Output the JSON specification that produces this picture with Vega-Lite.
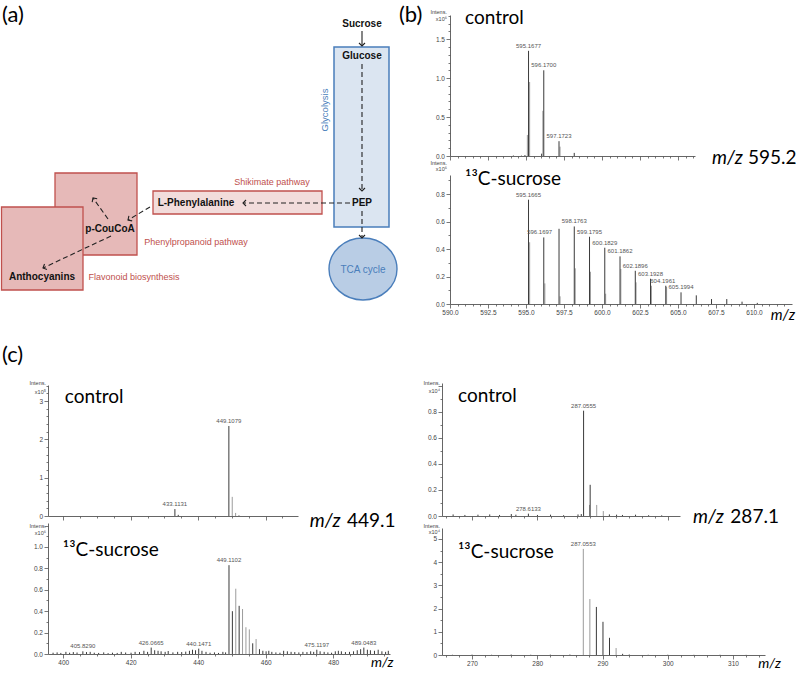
{
"$schema": "https://vega.github.io/schema/vega-lite/v6.json",
"width": 796, "height": 673, "autosize": "none", "padding": 0, "background": "white",
"config": {
  "view": {"stroke": null},
  "axis": {"domainColor": "#555", "tickColor": "#555", "labelColor": "#444", "labelFont": "Liberation Sans", "labelFontSize": 6.5, "labelPadding": 1.5, "grid": false, "labelOverlap": false, "labelFlush": false, "domainWidth": 0.9, "tickWidth": 0.8}
},
"datasets": {
  "boxes": [
    {"k": "sq", "gx": 55, "gx2": 137, "gy": 173, "gy2": 255},
    {"k": "sq", "gx": 1.5, "gx2": 83, "gy": 207, "gy2": 290},
    {"k": "phe", "gx": 153, "gx2": 322, "gy": 191, "gy2": 214},
    {"k": "gly", "gx": 334, "gx2": 389, "gy": 47, "gy2": 227},
    {"k": "tca", "gx": 363, "gy": 269}
  ],
  "links": [
    {"k": "solid", "gx": 362, "gy": 31, "gx2": 362, "gy2": 46, "hd": 180},
    {"k": "dash", "gx": 362, "gy": 64, "gx2": 362, "gy2": 191, "hd": 180},
    {"k": "dash", "gx": 350, "gy": 203, "gx2": 243, "gy2": 203, "hd": 270},
    {"k": "dash", "gx": 362, "gy": 211, "gx2": 362, "gy2": 238, "hd": 180},
    {"k": "dash", "gx": 150, "gy": 207, "gx2": 128, "gy2": 220, "hd": 237},
    {"k": "dash", "gx": 108, "gy": 219, "gx2": 93, "gy2": 198, "hd": 326},
    {"k": "dash", "gx": 111, "gy": 236, "gx2": 43, "gy2": 268, "hd": 246}
  ],
  "dtext": [
    {"k": "b", "gx": 362, "gy": 24, "txt": "Sucrose"},
    {"k": "b", "gx": 362, "gy": 56, "txt": "Glucose"},
    {"k": "b", "gx": 362, "gy": 203, "txt": "PEP"},
    {"k": "b", "gx": 196, "gy": 203, "txt": "L-Phenylalanine"},
    {"k": "b", "gx": 110, "gy": 229, "txt": "p-CouCoA"},
    {"k": "b", "gx": 42, "gy": 277, "txt": "Anthocyanins"},
    {"k": "r", "gx": 272, "gy": 182, "txt": "Shikimate pathway"},
    {"k": "r", "gx": 196, "gy": 242, "txt": "Phenylpropanoid pathway"},
    {"k": "r", "gx": 134, "gy": 277, "txt": "Flavonoid biosynthesis"},
    {"k": "u", "gx": 363, "gy": 270, "txt": "TCA cycle"},
    {"k": "v", "gx": 325, "gy": 110, "txt": "Glycolysis"},
    {"k": "f", "gx": 2, "gy": 15, "txt": "(a)"},
    {"k": "f", "gx": 399, "gy": 15, "txt": "(b)"},
    {"k": "f", "gx": 2, "gy": 355, "txt": "(c)"}
  ],
  "peaks": [
    {"p": "bc", "mz": 594.17, "i": 0.006, "t": "c"},
    {"p": "bc", "mz": 594.7, "i": 0.005, "t": "c"},
    {"p": "bc", "mz": 594.93, "i": 0.012, "t": "c"},
    {"p": "bc", "mz": 595.09, "i": 0.27, "t": "p"},
    {"p": "bc", "mz": 595.24, "i": 0.95, "t": "p"},
    {"p": "bc", "mz": 595.1677, "i": 1.35, "t": "c"},
    {"p": "bc", "mz": 596.03, "i": 0.03, "t": "c"},
    {"p": "bc", "mz": 596.11, "i": 0.58, "t": "p"},
    {"p": "bc", "mz": 596.17, "i": 1.10, "t": "c"},
    {"p": "bc", "mz": 597.24, "i": 0.12, "t": "p"},
    {"p": "bc", "mz": 597.1723, "i": 0.19, "t": "c"},
    {"p": "bc", "mz": 598.175, "i": 0.04, "t": "c"},

    {"p": "b13", "mz": 595.24, "i": 0.45, "t": "p"},
    {"p": "b13", "mz": 595.1665, "i": 0.76, "t": "c"},
    {"p": "b13", "mz": 596.24, "i": 0.15, "t": "p"},
    {"p": "b13", "mz": 596.1697, "i": 0.485, "t": "c"},
    {"p": "b13", "mz": 597.24, "i": 0.056, "t": "p"},
    {"p": "b13", "mz": 597.173, "i": 0.548, "t": "c"},
    {"p": "b13", "mz": 598.24, "i": 0.26, "t": "p"},
    {"p": "b13", "mz": 598.1763, "i": 0.565, "t": "c"},
    {"p": "b13", "mz": 599.24, "i": 0.235, "t": "p"},
    {"p": "b13", "mz": 599.1795, "i": 0.49, "t": "c"},
    {"p": "b13", "mz": 600.24, "i": 0.075, "t": "p"},
    {"p": "b13", "mz": 600.1829, "i": 0.41, "t": "c"},
    {"p": "b13", "mz": 601.24, "i": 0.255, "t": "p"},
    {"p": "b13", "mz": 601.1862, "i": 0.347, "t": "c"},
    {"p": "b13", "mz": 602.24, "i": 0.158, "t": "p"},
    {"p": "b13", "mz": 602.1896, "i": 0.242, "t": "c"},
    {"p": "b13", "mz": 603.25, "i": 0.133, "t": "p"},
    {"p": "b13", "mz": 603.1928, "i": 0.184, "t": "c"},
    {"p": "b13", "mz": 604.25, "i": 0.125, "t": "p"},
    {"p": "b13", "mz": 604.1961, "i": 0.133, "t": "c"},
    {"p": "b13", "mz": 605.1994, "i": 0.085, "t": "c"},
    {"p": "b13", "mz": 606.203, "i": 0.063, "t": "c"},
    {"p": "b13", "mz": 607.206, "i": 0.036, "t": "c"},
    {"p": "b13", "mz": 608.209, "i": 0.036, "t": "c"},
    {"p": "b13", "mz": 609.213, "i": 0.017, "t": "c"},
    {"p": "b13", "mz": 610.216, "i": 0.008, "t": "c"},

    {"p": "clc", "mz": 433.1131, "i": 0.18, "t": "c"},
    {"p": "clc", "mz": 434.11, "i": 0.03, "t": "c"},
    {"p": "clc", "mz": 449.1079, "i": 2.35, "t": "c"},
    {"p": "clc", "mz": 450.11, "i": 0.5, "t": "p"},
    {"p": "clc", "mz": 451.11, "i": 0.08, "t": "p"},
    {"p": "clc", "mz": 452.1, "i": 0.015, "t": "c"},

    {"p": "cl13", "mz": 397.0, "i": 0.012, "t": "c"},
    {"p": "cl13", "mz": 398.2, "i": 0.015, "t": "c"},
    {"p": "cl13", "mz": 399.3, "i": 0.01, "t": "c"},
    {"p": "cl13", "mz": 400.8, "i": 0.02, "t": "c"},
    {"p": "cl13", "mz": 401.9, "i": 0.012, "t": "c"},
    {"p": "cl13", "mz": 403.0, "i": 0.018, "t": "c"},
    {"p": "cl13", "mz": 404.1, "i": 0.014, "t": "c"},
    {"p": "cl13", "mz": 405.829, "i": 0.025, "t": "c"},
    {"p": "cl13", "mz": 406.9, "i": 0.018, "t": "c"},
    {"p": "cl13", "mz": 408.0, "i": 0.02, "t": "c"},
    {"p": "cl13", "mz": 409.2, "i": 0.012, "t": "c"},
    {"p": "cl13", "mz": 410.5, "i": 0.01, "t": "c"},
    {"p": "cl13", "mz": 412.0, "i": 0.015, "t": "c"},
    {"p": "cl13", "mz": 413.3, "i": 0.008, "t": "c"},
    {"p": "cl13", "mz": 414.6, "i": 0.012, "t": "c"},
    {"p": "cl13", "mz": 416.0, "i": 0.01, "t": "c"},
    {"p": "cl13", "mz": 417.2, "i": 0.02, "t": "c"},
    {"p": "cl13", "mz": 418.5, "i": 0.014, "t": "c"},
    {"p": "cl13", "mz": 420.1, "i": 0.012, "t": "c"},
    {"p": "cl13", "mz": 421.3, "i": 0.02, "t": "c"},
    {"p": "cl13", "mz": 422.6, "i": 0.018, "t": "c"},
    {"p": "cl13", "mz": 423.9, "i": 0.03, "t": "c"},
    {"p": "cl13", "mz": 425.0, "i": 0.02, "t": "c"},
    {"p": "cl13", "mz": 426.0665, "i": 0.06, "t": "c"},
    {"p": "cl13", "mz": 427.1, "i": 0.035, "t": "c"},
    {"p": "cl13", "mz": 428.1, "i": 0.03, "t": "c"},
    {"p": "cl13", "mz": 429.0, "i": 0.025, "t": "c"},
    {"p": "cl13", "mz": 430.2, "i": 0.02, "t": "c"},
    {"p": "cl13", "mz": 431.1, "i": 0.028, "t": "c"},
    {"p": "cl13", "mz": 432.5, "i": 0.015, "t": "c"},
    {"p": "cl13", "mz": 433.9, "i": 0.02, "t": "c"},
    {"p": "cl13", "mz": 435.1, "i": 0.018, "t": "c"},
    {"p": "cl13", "mz": 436.3, "i": 0.022, "t": "c"},
    {"p": "cl13", "mz": 437.4, "i": 0.03, "t": "c"},
    {"p": "cl13", "mz": 438.3, "i": 0.04, "t": "c"},
    {"p": "cl13", "mz": 439.2, "i": 0.035, "t": "c"},
    {"p": "cl13", "mz": 440.1471, "i": 0.05, "t": "c"},
    {"p": "cl13", "mz": 441.1, "i": 0.03, "t": "c"},
    {"p": "cl13", "mz": 442.3, "i": 0.02, "t": "c"},
    {"p": "cl13", "mz": 443.5, "i": 0.012, "t": "c"},
    {"p": "cl13", "mz": 444.8, "i": 0.015, "t": "c"},
    {"p": "cl13", "mz": 446.0, "i": 0.01, "t": "c"},
    {"p": "cl13", "mz": 447.3, "i": 0.02, "t": "c"},
    {"p": "cl13", "mz": 448.1, "i": 0.015, "t": "c"},
    {"p": "cl13", "mz": 449.1102, "i": 0.83, "t": "c"},
    {"p": "cl13", "mz": 450.113, "i": 0.40, "t": "c"},
    {"p": "cl13", "mz": 451.116, "i": 0.61, "t": "p"},
    {"p": "cl13", "mz": 452.12, "i": 0.45, "t": "c"},
    {"p": "cl13", "mz": 453.123, "i": 0.42, "t": "p"},
    {"p": "cl13", "mz": 454.126, "i": 0.25, "t": "p"},
    {"p": "cl13", "mz": 455.13, "i": 0.23, "t": "p"},
    {"p": "cl13", "mz": 456.133, "i": 0.10, "t": "c"},
    {"p": "cl13", "mz": 457.136, "i": 0.14, "t": "p"},
    {"p": "cl13", "mz": 458.14, "i": 0.045, "t": "c"},
    {"p": "cl13", "mz": 459.14, "i": 0.03, "t": "c"},
    {"p": "cl13", "mz": 460.1, "i": 0.025, "t": "c"},
    {"p": "cl13", "mz": 460.9, "i": 0.03, "t": "c"},
    {"p": "cl13", "mz": 461.8, "i": 0.02, "t": "c"},
    {"p": "cl13", "mz": 463.0, "i": 0.015, "t": "c"},
    {"p": "cl13", "mz": 464.2, "i": 0.012, "t": "c"},
    {"p": "cl13", "mz": 465.3, "i": 0.03, "t": "c"},
    {"p": "cl13", "mz": 466.4, "i": 0.025, "t": "c"},
    {"p": "cl13", "mz": 467.5, "i": 0.02, "t": "c"},
    {"p": "cl13", "mz": 468.6, "i": 0.018, "t": "c"},
    {"p": "cl13", "mz": 469.8, "i": 0.015, "t": "c"},
    {"p": "cl13", "mz": 471.0, "i": 0.02, "t": "c"},
    {"p": "cl13", "mz": 472.2, "i": 0.018, "t": "c"},
    {"p": "cl13", "mz": 473.3, "i": 0.025, "t": "c"},
    {"p": "cl13", "mz": 474.2, "i": 0.02, "t": "c"},
    {"p": "cl13", "mz": 475.1197, "i": 0.04, "t": "c"},
    {"p": "cl13", "mz": 476.1, "i": 0.025, "t": "c"},
    {"p": "cl13", "mz": 477.3, "i": 0.02, "t": "c"},
    {"p": "cl13", "mz": 478.4, "i": 0.015, "t": "c"},
    {"p": "cl13", "mz": 479.5, "i": 0.012, "t": "c"},
    {"p": "cl13", "mz": 480.6, "i": 0.025, "t": "c"},
    {"p": "cl13", "mz": 481.5, "i": 0.03, "t": "c"},
    {"p": "cl13", "mz": 482.4, "i": 0.025, "t": "c"},
    {"p": "cl13", "mz": 483.6, "i": 0.018, "t": "c"},
    {"p": "cl13", "mz": 484.8, "i": 0.02, "t": "c"},
    {"p": "cl13", "mz": 486.0, "i": 0.025, "t": "c"},
    {"p": "cl13", "mz": 487.1, "i": 0.035, "t": "c"},
    {"p": "cl13", "mz": 488.1, "i": 0.045, "t": "c"},
    {"p": "cl13", "mz": 489.0483, "i": 0.06, "t": "c"},
    {"p": "cl13", "mz": 490.1, "i": 0.04, "t": "c"},
    {"p": "cl13", "mz": 491.0, "i": 0.035, "t": "c"},
    {"p": "cl13", "mz": 492.2, "i": 0.03, "t": "c"},
    {"p": "cl13", "mz": 493.3, "i": 0.04, "t": "c"},
    {"p": "cl13", "mz": 494.4, "i": 0.025, "t": "c"},
    {"p": "cl13", "mz": 495.5, "i": 0.02, "t": "c"},
    {"p": "cl13", "mz": 496.3, "i": 0.03, "t": "c"},

    {"p": "crc", "mz": 267.1, "i": 0.012, "t": "c"},
    {"p": "crc", "mz": 268.9, "i": 0.008, "t": "c"},
    {"p": "crc", "mz": 270.9, "i": 0.01, "t": "c"},
    {"p": "crc", "mz": 272.7, "i": 0.012, "t": "c"},
    {"p": "crc", "mz": 274.2, "i": 0.008, "t": "c"},
    {"p": "crc", "mz": 276.0, "i": 0.015, "t": "c"},
    {"p": "crc", "mz": 276.7, "i": 0.01, "t": "c"},
    {"p": "crc", "mz": 278.6133, "i": 0.018, "t": "c"},
    {"p": "crc", "mz": 280.0, "i": 0.008, "t": "c"},
    {"p": "crc", "mz": 282.0, "i": 0.01, "t": "c"},
    {"p": "crc", "mz": 284.0, "i": 0.006, "t": "c"},
    {"p": "crc", "mz": 286.2, "i": 0.012, "t": "c"},
    {"p": "crc", "mz": 286.7, "i": 0.015, "t": "c"},
    {"p": "crc", "mz": 287.0555, "i": 0.81, "t": "c"},
    {"p": "crc", "mz": 287.96, "i": 0.085, "t": "p"},
    {"p": "crc", "mz": 288.06, "i": 0.24, "t": "c"},
    {"p": "crc", "mz": 289.06, "i": 0.085, "t": "p"},
    {"p": "crc", "mz": 290.07, "i": 0.038, "t": "p"},
    {"p": "crc", "mz": 291.0, "i": 0.012, "t": "c"},
    {"p": "crc", "mz": 292.1, "i": 0.01, "t": "c"},
    {"p": "crc", "mz": 293.0, "i": 0.008, "t": "c"},
    {"p": "crc", "mz": 295.0, "i": 0.01, "t": "c"},
    {"p": "crc", "mz": 297.0, "i": 0.006, "t": "c"},
    {"p": "crc", "mz": 299.0, "i": 0.005, "t": "c"},

    {"p": "cr13", "mz": 267.0, "i": 0.01, "t": "c"},
    {"p": "cr13", "mz": 270.0, "i": 0.015, "t": "c"},
    {"p": "cr13", "mz": 273.0, "i": 0.01, "t": "c"},
    {"p": "cr13", "mz": 276.0, "i": 0.02, "t": "c"},
    {"p": "cr13", "mz": 279.0, "i": 0.012, "t": "c"},
    {"p": "cr13", "mz": 282.0, "i": 0.015, "t": "c"},
    {"p": "cr13", "mz": 285.0, "i": 0.02, "t": "c"},
    {"p": "cr13", "mz": 287.0553, "i": 4.57, "t": "p"},
    {"p": "cr13", "mz": 288.06, "i": 2.41, "t": "p"},
    {"p": "cr13", "mz": 289.06, "i": 2.07, "t": "c"},
    {"p": "cr13", "mz": 290.07, "i": 1.43, "t": "c"},
    {"p": "cr13", "mz": 291.07, "i": 0.74, "t": "c"},
    {"p": "cr13", "mz": 292.08, "i": 0.30, "t": "p"},
    {"p": "cr13", "mz": 293.08, "i": 0.05, "t": "c"},
    {"p": "cr13", "mz": 294.1, "i": 0.02, "t": "c"},
    {"p": "cr13", "mz": 297.0, "i": 0.01, "t": "c"},
    {"p": "cr13", "mz": 300.0, "i": 0.012, "t": "c"},
    {"p": "cr13", "mz": 304.0, "i": 0.008, "t": "c"},
    {"p": "cr13", "mz": 308.0, "i": 0.01, "t": "c"},
    {"p": "cr13", "mz": 312.0, "i": 0.006, "t": "c"}
  ],
  "plabels": [
    {"p": "bc", "mz": 595.1677, "i": 1.35, "label": "595.1677"},
    {"p": "bc", "mz": 596.17, "i": 1.10, "label": "596.1700"},
    {"p": "bc", "mz": 597.1723, "i": 0.19, "label": "597.1723"},
    {"p": "b13", "mz": 595.1665, "i": 0.76, "label": "595.1665"},
    {"p": "b13", "mz": 595.9, "i": 0.485, "label": "596.1697"},
    {"p": "b13", "mz": 598.1763, "i": 0.565, "label": "598.1763"},
    {"p": "b13", "mz": 599.1795, "i": 0.49, "label": "599.1795"},
    {"p": "b13", "mz": 600.1829, "i": 0.41, "label": "600.1829"},
    {"p": "b13", "mz": 601.1862, "i": 0.347, "label": "601.1862"},
    {"p": "b13", "mz": 602.1896, "i": 0.242, "label": "602.1896"},
    {"p": "b13", "mz": 603.1928, "i": 0.184, "label": "603.1928"},
    {"p": "b13", "mz": 604.0, "i": 0.133, "label": "604.1961"},
    {"p": "b13", "mz": 605.1994, "i": 0.085, "label": "605.1994"},
    {"p": "clc", "mz": 449.1079, "i": 2.35, "label": "449.1079"},
    {"p": "clc", "mz": 433.1131, "i": 0.18, "label": "433.1131"},
    {"p": "cl13", "mz": 449.1102, "i": 0.83, "label": "449.1102"},
    {"p": "cl13", "mz": 405.829, "i": 0.025, "label": "405.8290"},
    {"p": "cl13", "mz": 426.0665, "i": 0.06, "label": "426.0665"},
    {"p": "cl13", "mz": 440.1471, "i": 0.05, "label": "440.1471"},
    {"p": "cl13", "mz": 475.1197, "i": 0.04, "label": "475.1197"},
    {"p": "cl13", "mz": 489.0483, "i": 0.06, "label": "489.0483"},
    {"p": "crc", "mz": 287.0555, "i": 0.81, "label": "287.0555"},
    {"p": "crc", "mz": 278.6133, "i": 0.018, "label": "278.6133"},
    {"p": "cr13", "mz": 287.0553, "i": 4.57, "label": "287.0553"}
  ],
  "notes": [
    {"p": "bc", "r": "s", "mz": 590.99, "i": 1.77, "txt": "control"},
    {"p": "bc", "r": "mi", "mz": 607.24, "i": -0.03, "txt": "m/z"},
    {"p": "bc", "r": "mv", "mz": 609.6, "i": -0.03, "txt": "595.2"},
    {"p": "bc", "r": "in", "mz": 589.8, "i": 1.85, "txt": "Intens."},
    {"p": "bc", "r": "in", "mz": 589.8, "i": 1.76, "txt": "x10⁶"},
    {"p": "b13", "r": "s", "mz": 590.99, "i": 0.91, "txt": "¹³C-sucrose"},
    {"p": "b13", "r": "ax", "mz": 611.9, "i": -0.078, "txt": "m/z"},
    {"p": "b13", "r": "in", "mz": 589.8, "i": 1.03, "txt": "Intens."},
    {"p": "b13", "r": "in", "mz": 589.8, "i": 0.985, "txt": "x10⁶"},
    {"p": "clc", "r": "s", "mz": 400.5, "i": 3.1, "txt": "control"},
    {"p": "clc", "r": "mi", "mz": 473.1, "i": -0.13, "txt": "m/z"},
    {"p": "clc", "r": "mv", "mz": 484.1, "i": -0.13, "txt": "449.1"},
    {"p": "clc", "r": "in", "mz": 394.9, "i": 3.47, "txt": "Intens."},
    {"p": "clc", "r": "in", "mz": 394.9, "i": 3.25, "txt": "x10⁵"},
    {"p": "cl13", "r": "s", "mz": 399.9, "i": 0.97, "txt": "¹³C-sucrose"},
    {"p": "cl13", "r": "ax", "mz": 494.5, "i": -0.085, "txt": "m/z"},
    {"p": "cl13", "r": "in", "mz": 394.9, "i": 1.195, "txt": "Intens."},
    {"p": "cl13", "r": "in", "mz": 394.9, "i": 1.135, "txt": "x10⁶"},
    {"p": "crc", "r": "s", "mz": 267.85, "i": 0.92, "txt": "control"},
    {"p": "crc", "r": "mi", "mz": 303.8, "i": -0.01, "txt": "m/z"},
    {"p": "crc", "r": "mv", "mz": 309.5, "i": -0.01, "txt": "287.1"},
    {"p": "crc", "r": "in", "mz": 265.1, "i": 1.02, "txt": "Intens."},
    {"p": "crc", "r": "in", "mz": 265.1, "i": 0.96, "txt": "x10⁴"},
    {"p": "cr13", "r": "s", "mz": 267.85, "i": 4.44, "txt": "¹³C-sucrose"},
    {"p": "cr13", "r": "ax", "mz": 315.6, "i": -0.39, "txt": "m/z"},
    {"p": "cr13", "r": "in", "mz": 265.1, "i": 5.55, "txt": "Intens."},
    {"p": "cr13", "r": "in", "mz": 265.1, "i": 5.29, "txt": "x10⁴"}
  ]
},
"resolve": {"scale": {"x": "independent", "y": "independent"}, "axis": {"x": "independent", "y": "independent"}},
"layer": [
  {
    "encoding": {
      "x": {"field": "gx", "type": "quantitative", "scale": {"domain": [0, 400], "range": [0, 400], "nice": false, "zero": false}, "axis": null},
      "y": {"field": "gy", "type": "quantitative", "scale": {"domain": [0, 300], "range": [0, 300], "nice": false, "zero": false}, "axis": null}
    },
    "layer": [
      {"data": {"name": "boxes"}, "transform": [{"filter": "datum.k==='sq'"}], "mark": {"type": "rect", "fill": "#e6b9b8", "stroke": "#c0504d", "strokeWidth": 1.3}, "encoding": {"x2": {"field": "gx2"}, "y2": {"field": "gy2"}}},
      {"data": {"name": "boxes"}, "transform": [{"filter": "datum.k==='phe'"}], "mark": {"type": "rect", "fill": "#f2dcdb", "stroke": "#c0504d", "strokeWidth": 1.3}, "encoding": {"x2": {"field": "gx2"}, "y2": {"field": "gy2"}}},
      {"data": {"name": "boxes"}, "transform": [{"filter": "datum.k==='gly'"}], "mark": {"type": "rect", "fill": "#dbe5f1", "stroke": "#4a7ebb", "strokeWidth": 1.5}, "encoding": {"x2": {"field": "gx2"}, "y2": {"field": "gy2"}}},
      {"data": {"name": "boxes"}, "transform": [{"filter": "datum.k==='tca'"}], "mark": {"type": "point", "shape": "M-1,0A1,0.91,0,1,0,1,0A1,0.91,0,1,0,-1,0Z", "size": 4624, "filled": true, "fill": "#b9cde5", "stroke": "#4a7ebb", "strokeWidth": 1.4, "opacity": 1, "fillOpacity": 1}},
      {"data": {"name": "links"}, "transform": [{"filter": "datum.k==='dash'"}], "mark": {"type": "rule", "strokeDash": [5, 3], "color": "#222", "strokeWidth": 1.1}, "encoding": {"x2": {"field": "gx2"}, "y2": {"field": "gy2"}}},
      {"data": {"name": "links"}, "transform": [{"filter": "datum.k==='solid'"}], "mark": {"type": "rule", "color": "#222", "strokeWidth": 1.1}, "encoding": {"x2": {"field": "gx2"}, "y2": {"field": "gy2"}}},
      {"data": {"name": "links"}, "mark": {"type": "point", "shape": "M-1,1L0,0L1,1", "filled": false, "color": "#222", "strokeWidth": 1.1, "size": 36, "opacity": 1},
       "encoding": {
         "x": {"field": "gx2", "type": "quantitative", "scale": {"domain": [0, 400], "range": [0, 400], "nice": false, "zero": false}, "axis": null},
         "y": {"field": "gy2", "type": "quantitative", "scale": {"domain": [0, 300], "range": [0, 300], "nice": false, "zero": false}, "axis": null},
         "angle": {"field": "hd", "type": "quantitative", "scale": null}}},
      {"data": {"name": "dtext"}, "transform": [{"filter": "datum.k==='b'"}], "mark": {"type": "text", "font": "Liberation Sans", "fontWeight": "bold", "fontSize": 10, "color": "#111", "baseline": "middle"}, "encoding": {"text": {"field": "txt", "type": "nominal"}}},
      {"data": {"name": "dtext"}, "transform": [{"filter": "datum.k==='r'"}], "mark": {"type": "text", "font": "Liberation Sans", "fontSize": 9, "color": "#c0504d", "baseline": "middle"}, "encoding": {"text": {"field": "txt", "type": "nominal"}}},
      {"data": {"name": "dtext"}, "transform": [{"filter": "datum.k==='u'"}], "mark": {"type": "text", "font": "Liberation Sans", "fontSize": 10, "color": "#4a7ebb", "baseline": "middle"}, "encoding": {"text": {"field": "txt", "type": "nominal"}}},
      {"data": {"name": "dtext"}, "transform": [{"filter": "datum.k==='v'"}], "mark": {"type": "text", "font": "Liberation Sans", "fontSize": 9.5, "color": "#4a7ebb", "baseline": "middle", "angle": 270}, "encoding": {"text": {"field": "txt", "type": "nominal"}}},
      {"data": {"name": "dtext"}, "transform": [{"filter": "datum.k==='f'"}], "mark": {"type": "text", "font": "Lato", "fontSize": 22, "color": "#000", "baseline": "middle", "align": "left"}, "encoding": {"text": {"field": "txt", "type": "nominal"}}}
    ]
  },
  {
    "encoding": {
      "x": {"field": "mz", "type": "quantitative", "scale": {"domain": [590, 606.12], "range": [450, 695], "nice": false, "zero": false},
        "axis": {"orient": "bottom", "offset": -517, "title": null, "labels": false, "values": [590,590.5,591,591.5,592,592.5,593,593.5,594,594.5,595,595.5,596,596.5,597,597.5,598,598.5,599,599.5,600,600.5,601,601.5,602,602.5,603,603.5,604,604.5,605,605.5,606], "tickSize": {"condition": {"test": "abs(datum.value/2.5-round(datum.value/2.5))<0.001", "value": 4}, "value": 2}}},
      "y": {"field": "i", "type": "quantitative", "scale": {"domain": [0, 1.81], "range": [156, 15], "nice": false, "zero": false},
        "axis": {"orient": "left", "offset": -450, "title": null, "values": [0,0.1,0.2,0.3,0.4,0.5,0.6,0.7,0.8,0.9,1,1.1,1.2,1.3,1.4,1.5,1.6,1.7,1.8], "format": ".1f", "labelExpr": "abs(datum.value*2-round(datum.value*2))<0.001 ? datum.label : ''", "tickSize": {"condition": {"test": "abs(datum.value*2-round(datum.value*2))<0.001", "value": 4}, "value": 2}}}
    },
    "layer": [
      {"data": {"name": "peaks"}, "transform": [{"filter": "datum.p==='bc'"}], "mark": {"type": "rule", "strokeWidth": 1}, "encoding": {"y2": {"datum": 0}, "color": {"field": "t", "type": "nominal", "scale": {"domain": ["c", "p"], "range": ["#3a3a3a", "#9c9c9c"]}, "legend": null}}},
      {"data": {"name": "plabels"}, "transform": [{"filter": "datum.p==='bc'"}], "mark": {"type": "text", "font": "Liberation Sans", "fontSize": 6, "color": "#555", "baseline": "bottom", "dy": -2}, "encoding": {"text": {"field": "label", "type": "nominal"}}},
      {"data": {"name": "notes"}, "transform": [{"filter": "datum.p==='bc' && datum.r==='s'"}], "mark": {"type": "text", "font": "Lato", "fontSize": 19, "align": "left", "baseline": "middle", "color": "#000"}, "encoding": {"text": {"field": "txt", "type": "nominal"}}},
      {"data": {"name": "notes"}, "transform": [{"filter": "datum.p==='bc' && datum.r==='mi'"}], "mark": {"type": "text", "font": "Lato", "fontSize": 19, "fontStyle": "italic", "align": "left", "baseline": "middle", "color": "#000"}, "encoding": {"text": {"field": "txt", "type": "nominal"}}},
      {"data": {"name": "notes"}, "transform": [{"filter": "datum.p==='bc' && datum.r==='mv'"}], "mark": {"type": "text", "font": "Lato", "fontSize": 19, "align": "left", "baseline": "middle", "color": "#000"}, "encoding": {"text": {"field": "txt", "type": "nominal"}}},
      {"data": {"name": "notes"}, "transform": [{"filter": "datum.p==='bc' && datum.r==='in'"}], "mark": {"type": "text", "font": "Liberation Sans", "fontSize": 5.5, "align": "right", "baseline": "middle", "color": "#444"}, "encoding": {"text": {"field": "txt", "type": "nominal"}}}
    ]
  },
  {
    "encoding": {
      "x": {"field": "mz", "type": "quantitative", "scale": {"domain": [590, 612.5], "range": [450, 792], "nice": false, "zero": false},
        "axis": {"orient": "bottom", "offset": -369, "title": null, "values": [590,590.5,591,591.5,592,592.5,593,593.5,594,594.5,595,595.5,596,596.5,597,597.5,598,598.5,599,599.5,600,600.5,601,601.5,602,602.5,603,603.5,604,604.5,605,605.5,606,606.5,607,607.5,608,608.5,609,609.5,610,610.5,611,611.5,612], "format": ".1f", "labelExpr": "abs(datum.value/2.5-round(datum.value/2.5))<0.001 ? datum.label : ''", "tickSize": {"condition": {"test": "abs(datum.value/2.5-round(datum.value/2.5))<0.001", "value": 4}, "value": 2}}},
      "y": {"field": "i", "type": "quantitative", "scale": {"domain": [0, 0.94], "range": [304, 175], "nice": false, "zero": false},
        "axis": {"orient": "left", "offset": -450, "title": null, "values": [0,0.1,0.2,0.3,0.4,0.5,0.6,0.7,0.8,0.9], "format": ".1f", "labelExpr": "abs(datum.value*5-round(datum.value*5))<0.001 ? datum.label : ''", "tickSize": {"condition": {"test": "abs(datum.value*5-round(datum.value*5))<0.001", "value": 4}, "value": 2}}}
    },
    "layer": [
      {"data": {"name": "peaks"}, "transform": [{"filter": "datum.p==='b13'"}], "mark": {"type": "rule", "strokeWidth": 1}, "encoding": {"y2": {"datum": 0}, "color": {"field": "t", "type": "nominal", "scale": {"domain": ["c", "p"], "range": ["#3a3a3a", "#9c9c9c"]}, "legend": null}}},
      {"data": {"name": "plabels"}, "transform": [{"filter": "datum.p==='b13'"}], "mark": {"type": "text", "font": "Liberation Sans", "fontSize": 6, "color": "#555", "baseline": "bottom", "dy": -2}, "encoding": {"text": {"field": "label", "type": "nominal"}}},
      {"data": {"name": "notes"}, "transform": [{"filter": "datum.p==='b13' && datum.r==='s'"}], "mark": {"type": "text", "font": "Lato", "fontSize": 19, "align": "left", "baseline": "middle", "color": "#000"}, "encoding": {"text": {"field": "txt", "type": "nominal"}}},
      {"data": {"name": "notes"}, "transform": [{"filter": "datum.p==='b13' && datum.r==='ax'"}], "mark": {"type": "text", "font": "Lato", "fontSize": 15, "fontStyle": "italic", "align": "center", "baseline": "middle", "color": "#000"}, "encoding": {"text": {"field": "txt", "type": "nominal"}}},
      {"data": {"name": "notes"}, "transform": [{"filter": "datum.p==='b13' && datum.r==='in'"}], "mark": {"type": "text", "font": "Liberation Sans", "fontSize": 5.5, "align": "right", "baseline": "middle", "color": "#444"}, "encoding": {"text": {"field": "txt", "type": "nominal"}}}
    ]
  },
  {
    "encoding": {
      "x": {"field": "mz", "type": "quantitative", "scale": {"domain": [395.5, 469.6], "range": [48, 298], "nice": false, "zero": false},
        "axis": {"orient": "bottom", "offset": -157, "title": null, "labels": false, "values": [400,405,410,415,420,425,430,435,440,445,450,455,460,465], "tickSize": {"condition": {"test": "datum.value%20===0", "value": 4}, "value": 2}}},
      "y": {"field": "i", "type": "quantitative", "scale": {"domain": [0, 3.42], "range": [516, 385], "nice": false, "zero": false},
        "axis": {"orient": "left", "offset": -48, "title": null, "values": [0,0.2,0.4,0.6,0.8,1,1.2,1.4,1.6,1.8,2,2.2,2.4,2.6,2.8,3,3.2,3.4], "format": ".0f", "labelExpr": "abs(datum.value-round(datum.value))<0.001 ? datum.label : ''", "tickSize": {"condition": {"test": "abs(datum.value-round(datum.value))<0.001", "value": 4}, "value": 2}}}
    },
    "layer": [
      {"data": {"name": "peaks"}, "transform": [{"filter": "datum.p==='clc'"}], "mark": {"type": "rule", "strokeWidth": 1}, "encoding": {"y2": {"datum": 0}, "color": {"field": "t", "type": "nominal", "scale": {"domain": ["c", "p"], "range": ["#3a3a3a", "#9c9c9c"]}, "legend": null}}},
      {"data": {"name": "plabels"}, "transform": [{"filter": "datum.p==='clc'"}], "mark": {"type": "text", "font": "Liberation Sans", "fontSize": 6, "color": "#555", "baseline": "bottom", "dy": -2}, "encoding": {"text": {"field": "label", "type": "nominal"}}},
      {"data": {"name": "notes"}, "transform": [{"filter": "datum.p==='clc' && datum.r==='s'"}], "mark": {"type": "text", "font": "Lato", "fontSize": 19, "align": "left", "baseline": "middle", "color": "#000"}, "encoding": {"text": {"field": "txt", "type": "nominal"}}},
      {"data": {"name": "notes"}, "transform": [{"filter": "datum.p==='clc' && datum.r==='mi'"}], "mark": {"type": "text", "font": "Lato", "fontSize": 19, "fontStyle": "italic", "align": "left", "baseline": "middle", "color": "#000"}, "encoding": {"text": {"field": "txt", "type": "nominal"}}},
      {"data": {"name": "notes"}, "transform": [{"filter": "datum.p==='clc' && datum.r==='mv'"}], "mark": {"type": "text", "font": "Lato", "fontSize": 19, "align": "left", "baseline": "middle", "color": "#000"}, "encoding": {"text": {"field": "txt", "type": "nominal"}}},
      {"data": {"name": "notes"}, "transform": [{"filter": "datum.p==='clc' && datum.r==='in'"}], "mark": {"type": "text", "font": "Liberation Sans", "fontSize": 5.5, "align": "right", "baseline": "middle", "color": "#444"}, "encoding": {"text": {"field": "txt", "type": "nominal"}}}
    ]
  },
  {
    "encoding": {
      "x": {"field": "mz", "type": "quantitative", "scale": {"domain": [395.5, 496.8], "range": [48, 390], "nice": false, "zero": false},
        "axis": {"orient": "bottom", "offset": -19, "title": null, "values": [400,405,410,415,420,425,430,435,440,445,450,455,460,465,470,475,480,485,490,495], "format": "d", "labelExpr": "datum.value%20===0 ? datum.label : ''", "tickSize": {"condition": {"test": "datum.value%20===0", "value": 4}, "value": 2}}},
      "y": {"field": "i", "type": "quantitative", "scale": {"domain": [0, 1.224], "range": [654, 523], "nice": false, "zero": false},
        "axis": {"orient": "left", "offset": -48, "title": null, "values": [0,0.1,0.2,0.3,0.4,0.5,0.6,0.7,0.8,0.9,1,1.1,1.2], "format": ".1f", "labelExpr": "datum.value<1.1 && abs(datum.value*5-round(datum.value*5))<0.001 ? datum.label : ''", "tickSize": {"condition": {"test": "abs(datum.value*5-round(datum.value*5))<0.001", "value": 4}, "value": 2}}}
    },
    "layer": [
      {"data": {"name": "peaks"}, "transform": [{"filter": "datum.p==='cl13'"}], "mark": {"type": "rule", "strokeWidth": 1}, "encoding": {"y2": {"datum": 0}, "color": {"field": "t", "type": "nominal", "scale": {"domain": ["c", "p"], "range": ["#3a3a3a", "#9c9c9c"]}, "legend": null}}},
      {"data": {"name": "plabels"}, "transform": [{"filter": "datum.p==='cl13'"}], "mark": {"type": "text", "font": "Liberation Sans", "fontSize": 6, "color": "#555", "baseline": "bottom", "dy": -2}, "encoding": {"text": {"field": "label", "type": "nominal"}}},
      {"data": {"name": "notes"}, "transform": [{"filter": "datum.p==='cl13' && datum.r==='s'"}], "mark": {"type": "text", "font": "Lato", "fontSize": 19, "align": "left", "baseline": "middle", "color": "#000"}, "encoding": {"text": {"field": "txt", "type": "nominal"}}},
      {"data": {"name": "notes"}, "transform": [{"filter": "datum.p==='cl13' && datum.r==='ax'"}], "mark": {"type": "text", "font": "Lato", "fontSize": 14, "fontStyle": "italic", "align": "center", "baseline": "middle", "color": "#000"}, "encoding": {"text": {"field": "txt", "type": "nominal"}}},
      {"data": {"name": "notes"}, "transform": [{"filter": "datum.p==='cl13' && datum.r==='in'"}], "mark": {"type": "text", "font": "Liberation Sans", "fontSize": 5.5, "align": "right", "baseline": "middle", "color": "#444"}, "encoding": {"text": {"field": "txt", "type": "nominal"}}}
    ]
  },
  {
    "encoding": {
      "x": {"field": "mz", "type": "quantitative", "scale": {"domain": [265.4, 301.8], "range": [442, 680], "nice": false, "zero": false},
        "axis": {"orient": "bottom", "offset": -157, "title": null, "labels": false, "values": [266,268,270,272,274,276,278,280,282,284,286,288,290,292,294,296,298,300], "tickSize": {"condition": {"test": "datum.value%10===0", "value": 4}, "value": 2}}},
      "y": {"field": "i", "type": "quantitative", "scale": {"domain": [0, 1.023], "range": [516, 383], "nice": false, "zero": false},
        "axis": {"orient": "left", "offset": -442, "title": null, "values": [0,0.1,0.2,0.3,0.4,0.5,0.6,0.7,0.8,0.9,1], "format": ".1f", "labelExpr": "datum.value<0.95 && abs(datum.value*5-round(datum.value*5))<0.001 ? datum.label : ''", "tickSize": {"condition": {"test": "abs(datum.value*5-round(datum.value*5))<0.001", "value": 4}, "value": 2}}}
    },
    "layer": [
      {"data": {"name": "peaks"}, "transform": [{"filter": "datum.p==='crc'"}], "mark": {"type": "rule", "strokeWidth": 1}, "encoding": {"y2": {"datum": 0}, "color": {"field": "t", "type": "nominal", "scale": {"domain": ["c", "p"], "range": ["#3a3a3a", "#9c9c9c"]}, "legend": null}}},
      {"data": {"name": "plabels"}, "transform": [{"filter": "datum.p==='crc'"}], "mark": {"type": "text", "font": "Liberation Sans", "fontSize": 6, "color": "#555", "baseline": "bottom", "dy": -2}, "encoding": {"text": {"field": "label", "type": "nominal"}}},
      {"data": {"name": "notes"}, "transform": [{"filter": "datum.p==='crc' && datum.r==='s'"}], "mark": {"type": "text", "font": "Lato", "fontSize": 19, "align": "left", "baseline": "middle", "color": "#000"}, "encoding": {"text": {"field": "txt", "type": "nominal"}}},
      {"data": {"name": "notes"}, "transform": [{"filter": "datum.p==='crc' && datum.r==='mi'"}], "mark": {"type": "text", "font": "Lato", "fontSize": 19, "fontStyle": "italic", "align": "left", "baseline": "middle", "color": "#000"}, "encoding": {"text": {"field": "txt", "type": "nominal"}}},
      {"data": {"name": "notes"}, "transform": [{"filter": "datum.p==='crc' && datum.r==='mv'"}], "mark": {"type": "text", "font": "Lato", "fontSize": 19, "align": "left", "baseline": "middle", "color": "#000"}, "encoding": {"text": {"field": "txt", "type": "nominal"}}},
      {"data": {"name": "notes"}, "transform": [{"filter": "datum.p==='crc' && datum.r==='in'"}], "mark": {"type": "text", "font": "Liberation Sans", "fontSize": 5.5, "align": "right", "baseline": "middle", "color": "#444"}, "encoding": {"text": {"field": "txt", "type": "nominal"}}}
    ]
  },
  {
    "encoding": {
      "x": {"field": "mz", "type": "quantitative", "scale": {"domain": [265.4, 314.9], "range": [442, 765], "nice": false, "zero": false},
        "axis": {"orient": "bottom", "offset": -18, "title": null, "values": [266,268,270,272,274,276,278,280,282,284,286,288,290,292,294,296,298,300,302,304,306,308,310,312,314], "format": "d", "labelExpr": "datum.value%10===0 ? datum.label : ''", "tickSize": {"condition": {"test": "datum.value%10===0", "value": 4}, "value": 2}}},
      "y": {"field": "i", "type": "quantitative", "scale": {"domain": [0, 5.47], "range": [655, 528], "nice": false, "zero": false},
        "axis": {"orient": "left", "offset": -442, "title": null, "values": [0,0.5,1,1.5,2,2.5,3,3.5,4,4.5,5], "format": ".0f", "labelExpr": "abs(datum.value-round(datum.value))<0.001 ? datum.label : ''", "tickSize": {"condition": {"test": "abs(datum.value-round(datum.value))<0.001", "value": 4}, "value": 2}}}
    },
    "layer": [
      {"data": {"name": "peaks"}, "transform": [{"filter": "datum.p==='cr13'"}], "mark": {"type": "rule", "strokeWidth": 1}, "encoding": {"y2": {"datum": 0}, "color": {"field": "t", "type": "nominal", "scale": {"domain": ["c", "p"], "range": ["#3a3a3a", "#9c9c9c"]}, "legend": null}}},
      {"data": {"name": "plabels"}, "transform": [{"filter": "datum.p==='cr13'"}], "mark": {"type": "text", "font": "Liberation Sans", "fontSize": 6, "color": "#555", "baseline": "bottom", "dy": -2}, "encoding": {"text": {"field": "label", "type": "nominal"}}},
      {"data": {"name": "notes"}, "transform": [{"filter": "datum.p==='cr13' && datum.r==='s'"}], "mark": {"type": "text", "font": "Lato", "fontSize": 19, "align": "left", "baseline": "middle", "color": "#000"}, "encoding": {"text": {"field": "txt", "type": "nominal"}}},
      {"data": {"name": "notes"}, "transform": [{"filter": "datum.p==='cr13' && datum.r==='ax'"}], "mark": {"type": "text", "font": "Lato", "fontSize": 14, "fontStyle": "italic", "align": "center", "baseline": "middle", "color": "#000"}, "encoding": {"text": {"field": "txt", "type": "nominal"}}},
      {"data": {"name": "notes"}, "transform": [{"filter": "datum.p==='cr13' && datum.r==='in'"}], "mark": {"type": "text", "font": "Liberation Sans", "fontSize": 5.5, "align": "right", "baseline": "middle", "color": "#444"}, "encoding": {"text": {"field": "txt", "type": "nominal"}}}
    ]
  }
]
}
